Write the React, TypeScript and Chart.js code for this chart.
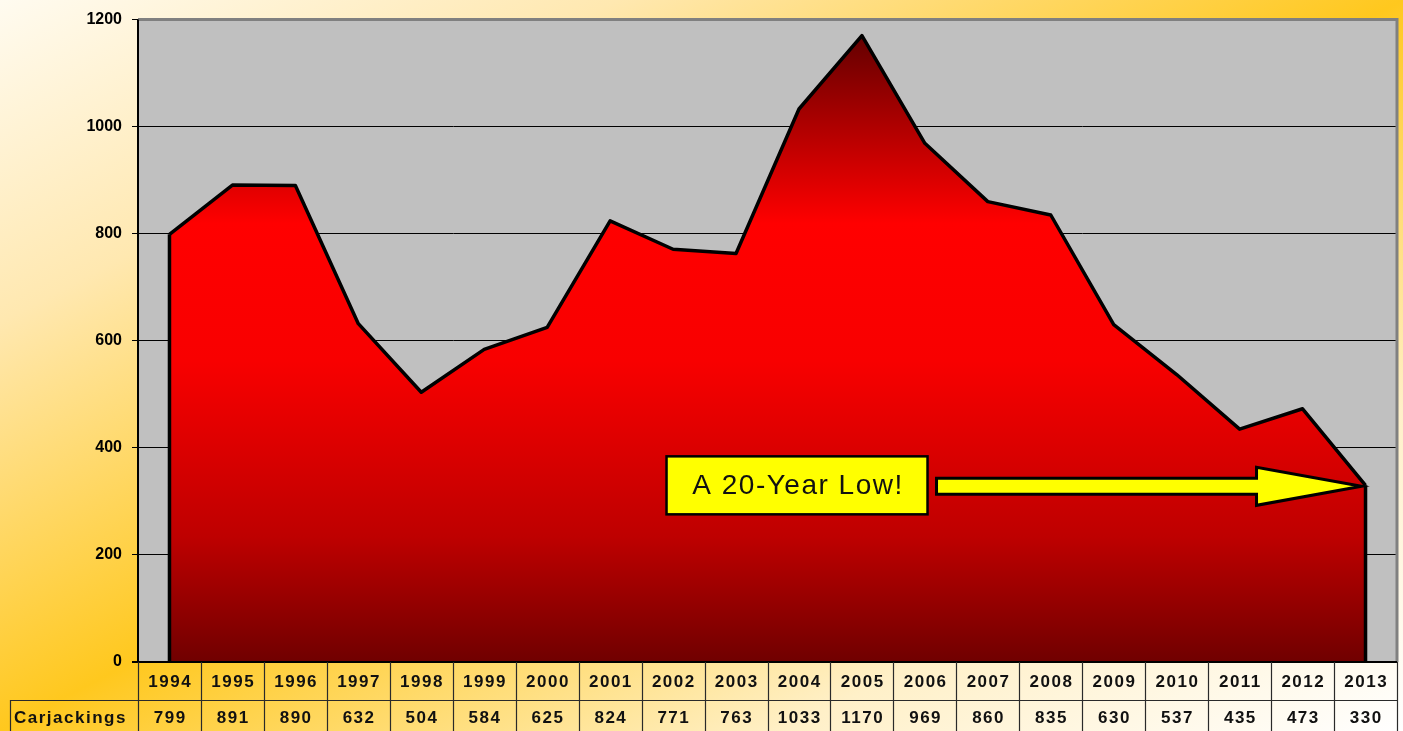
import React, { useEffect, useRef } from "react";
import { Chart, registerables } from "chart.js";

Chart.register(...registerables);

const years = ["1994", "1995", "1996", "1997", "1998", "1999", "2000", "2001", "2002", "2003", "2004", "2005", "2006", "2007", "2008", "2009", "2010", "2011", "2012", "2013"];
const carjackings = [799, 891, 890, 632, 504, 584, 625, 824, 771, 763, 1033, 1170, 969, 860, 835, 630, 537, 435, 473, 330];
const seriesLabel = "Carjackings";
const yMin = 0;
const yMax = 1200;
const yStep = 200;
const annotationText = "A 20-Year Low!";

const FONT = '"Liberation Sans", Arial, sans-serif';

const plotBackground = {
  id: "plotBackground",
  beforeDraw(chart: any) {
    const { ctx, chartArea: a } = chart;
    ctx.save();
    ctx.fillStyle = "#C0C0C0";
    ctx.fillRect(a.left, a.top, a.right - a.left, a.bottom - a.top);
    ctx.restore();
  },
};

const decorations = {
  id: "decorations",
  afterDatasetsDraw(chart: any) {
    const { ctx, chartArea: a, scales } = chart;
    const xs = scales.x;
    const ys = scales.y;
    const base = ys.getPixelForValue(0);
    const meta = chart.getDatasetMeta(0);
    const pts = meta.data;
    ctx.save();

    // vertical edges of the area
    ctx.strokeStyle = "#000";
    ctx.lineWidth = 3.5;
    ctx.lineCap = "butt";
    const first = pts[0];
    const last = pts[pts.length - 1];
    ctx.beginPath();
    ctx.moveTo(first.x, first.y);
    ctx.lineTo(first.x, base);
    ctx.moveTo(last.x, last.y);
    ctx.lineTo(last.x, base);
    ctx.stroke();

    // plot frame: gray top/right
    ctx.strokeStyle = "#808080";
    ctx.lineWidth = 3;
    ctx.beginPath();
    ctx.moveTo(a.left, a.top);
    ctx.lineTo(a.right, a.top);
    ctx.lineTo(a.right, a.bottom);
    ctx.stroke();

    // bottom axis line
    ctx.strokeStyle = "#000";
    ctx.lineWidth = 2;
    ctx.beginPath();
    ctx.moveTo(a.left - 6, a.bottom);
    ctx.lineTo(a.right, a.bottom);
    ctx.stroke();
    // left axis line
    ctx.beginPath();
    ctx.moveTo(a.left, a.top);
    ctx.lineTo(a.left, a.bottom);
    ctx.stroke();

    // data table
    const top = a.bottom;
    const mid = top + 38;
    const bottom = chart.height + 20;
    const n = years.length;
    const bounds: number[] = [a.left];
    for (let i = 0; i < n - 1; i++) {
      bounds.push((xs.getPixelForValue(i) + xs.getPixelForValue(i + 1)) / 2);
    }
    bounds.push(a.right);
    ctx.strokeStyle = "#2a2a2a";
    ctx.lineWidth = 1.2;
    ctx.beginPath();
    for (const b of bounds) {
      const bx = Math.round(b) + 0.5;
      ctx.moveTo(bx, top);
      ctx.lineTo(bx, bottom);
    }
    ctx.moveTo(10.5, mid + 0.5);
    ctx.lineTo(a.right, mid + 0.5);
    ctx.moveTo(10.5, mid);
    ctx.lineTo(10.5, bottom);
    ctx.stroke();

    ctx.fillStyle = "#111";
    ctx.font = `bold 17px ${FONT}`;
    (ctx as any).letterSpacing = "1.5px";
    ctx.textAlign = "center";
    ctx.textBaseline = "middle";
    for (let i = 0; i < n; i++) {
      const cx = xs.getPixelForValue(i);
      ctx.fillText(years[i], cx + 0.75, (top + mid) / 2 + 1);
      ctx.fillText(String(carjackings[i]), cx + 0.75, mid + 18);
    }
    ctx.textAlign = "left";
    ctx.fillText(seriesLabel, 14, mid + 18);
    (ctx as any).letterSpacing = "0px";

    // annotation: arrow pointing at last value
    const px = last.x;
    const py = last.y;
    const tipX = px - 4;
    const tipY = py + 1;
    const headBase = tipX - 105;
    const shaftLeft = tipX - 425;
    const shaftHalf = 8;
    const headHalf = 19;
    ctx.fillStyle = "#FFFF00";
    ctx.strokeStyle = "#000";
    ctx.lineWidth = 3;
    ctx.lineJoin = "miter";
    ctx.beginPath();
    ctx.moveTo(shaftLeft, tipY - shaftHalf);
    ctx.lineTo(headBase, tipY - shaftHalf);
    ctx.lineTo(headBase, tipY - headHalf);
    ctx.lineTo(tipX, tipY);
    ctx.lineTo(headBase, tipY + headHalf);
    ctx.lineTo(headBase, tipY + shaftHalf);
    ctx.lineTo(shaftLeft, tipY + shaftHalf);
    ctx.closePath();
    ctx.fill();
    ctx.stroke();

    // text box
    const boxRight = shaftLeft - 9;
    const boxLeft = boxRight - 261;
    const boxTop = tipY - 30;
    const boxH = 58;
    ctx.fillStyle = "#FFFF00";
    ctx.fillRect(boxLeft, boxTop, boxRight - boxLeft, boxH);
    ctx.lineWidth = 2.5;
    ctx.strokeRect(boxLeft, boxTop, boxRight - boxLeft, boxH);
    ctx.fillStyle = "#111";
    ctx.font = `28px ${FONT}`;
    (ctx as any).letterSpacing = "1.5px";
    ctx.textAlign = "center";
    ctx.textBaseline = "middle";
    ctx.fillText(annotationText, (boxLeft + boxRight) / 2 + 1, boxTop + boxH / 2 + 1);
    (ctx as any).letterSpacing = "0px";

    ctx.restore();
  },
};

export default function App() {
  const canvasRef = useRef<HTMLCanvasElement | null>(null);

  useEffect(() => {
    document.body.style.margin = "0";
    const canvas = canvasRef.current;
    if (!canvas) return;
    const chart = new Chart(canvas, {
      type: "line",
      data: {
        labels: years,
        datasets: [
          {
            label: seriesLabel,
            data: carjackings,
            fill: "origin",
            tension: 0,
            borderColor: "#000",
            borderWidth: 3.5,
            borderJoinStyle: "round",
            pointRadius: 0,
            pointHoverRadius: 0,
            backgroundColor: (context: any) => {
              const c = context.chart;
              const { chartArea, scales } = c;
              if (!chartArea) return "#E00000";
              const yTop = scales.y.getPixelForValue(Math.max(...carjackings));
              const yBot = scales.y.getPixelForValue(0);
              const g = c.ctx.createLinearGradient(0, yTop, 0, yBot);
              g.addColorStop(0, "#640000");
              g.addColorStop(0.3, "#FF0000");
              g.addColorStop(0.52, "#F80000");
              g.addColorStop(0.8, "#BE0000");
              g.addColorStop(1, "#700000");
              return g;
            },
          },
        ],
      },
      options: {
        responsive: true,
        maintainAspectRatio: false,
        animation: false,
        layout: { padding: { top: 18, bottom: 69, left: 8, right: 6 } },
        plugins: {
          legend: { display: false },
          tooltip: { enabled: false },
          title: { display: false },
        },
        scales: {
          x: {
            type: "category",
            display: false,
            offset: true,
            grid: { display: false },
          },
          y: {
            min: yMin,
            max: yMax,
            afterFit: (s: any) => {
              s.width = 130;
            },
            border: { display: true, color: "#000", width: 2 },
            grid: { color: "#000", lineWidth: 1, tickLength: 6, tickColor: "#000" },
            ticks: {
              stepSize: yStep,
              padding: 10,
              color: "#000",
              font: { family: FONT, size: 16, weight: "bold" },
              callback: (v: any) => String(v),
            },
          },
        },
      },
      plugins: [plotBackground, decorations],
    });
    return () => chart.destroy();
  }, []);

  return (
    <div
      style={{
        position: "relative",
        width: 1403,
        height: 731,
        overflow: "hidden",
        background: "linear-gradient(to bottom right, #FFFBF0 0%, #FFE8B0 22%, #FFC81E 50%, #FFF0C8 78%, #FFFFFF 100%)",
      }}
    >
      <canvas ref={canvasRef} />
    </div>
  );
}
